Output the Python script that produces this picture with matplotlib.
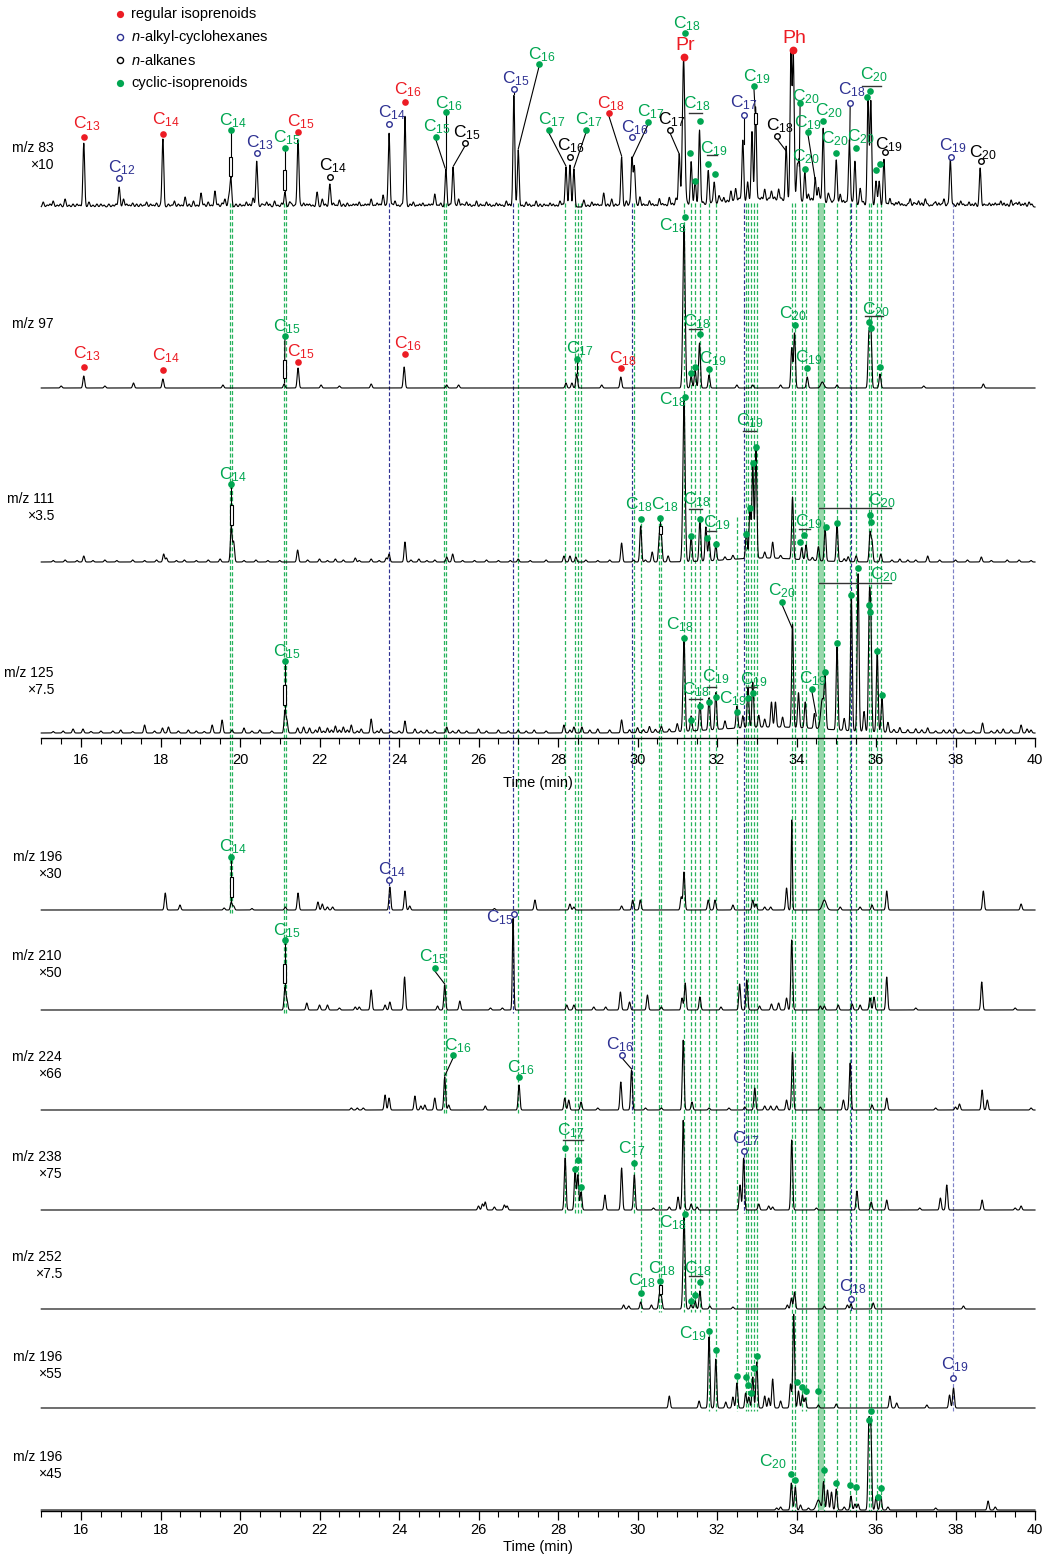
import numpy as np
import matplotlib
matplotlib.use('Agg')
import matplotlib.pyplot as plt
from matplotlib import font_manager
from matplotlib.patches import Rectangle

# ======================= DATA =======================
trace_ions = ['m/z 83', 'm/z 97', 'm/z 111', 'm/z 125', 'm/z 196', 'm/z 210',
              'm/z 224', 'm/z 238', 'm/z 252', 'm/z 196', 'm/z 196']
trace_gain = ['×10', '', '×3.5', '×7.5', '×30', '×50', '×66', '×75', '×7.5', '×55', '×45']

# peaks: (retention time [min], relative height, optional width [min])
peaks_83 = [(16.07, 64), (16.96, 20), (18.06, 68), (19.72, 10), (19.77, 29), (20.42, 45),
            (21.13, 15), (21.46, 67), (22.26, 23), (23.75, 74), (24.15, 91), (25.18, 38),
            (25.36, 40), (26.89, 112), (27.0, 57), (28.2, 40), (28.3, 42), (28.4, 38),
            (29.6, 50), (29.86, 49), (29.92, 40), (31.05, 52), (31.16, 147, 0.03),
            (31.35, 44), (31.45, 25), (31.56, 75), (31.78, 34), (31.93, 22), (32.65, 62),
            (32.88, 70), (32.97, 95), (33.74, 55), (33.86, 147), (33.92, 145), (34.02, 34),
            (34.07, 40), (34.21, 30), (34.47, 25), (34.67, 75), (35.0, 44), (35.33, 65),
            (35.47, 44), (35.8, 110), (35.87, 105), (36.0, 25), (36.08, 25), (36.2, 47),
            (37.87, 47), (38.62, 39), (33.5, 6, 1.3)]
noise_83 = [(15.05, 5), (15.3, 6), (15.6, 8), (15.8, 3), (16.2, 5), (16.4, 3), (16.7, 3), (17.07, 8),
            (17.3, 4), (17.5, 3), (17.65, 5), (17.9, 4), (18.2, 3), (18.35, 6), (18.62, 10), (18.83, 6),
            (19.02, 14), (19.2, 5), (19.37, 16), (19.55, 4), (19.62, 8), (20.0, 3), (20.16, 5), (20.33, 9),
            (20.55, 3), (20.67, 5), (20.87, 6), (21.05, 4), (21.25, 5), (21.6, 4), (21.75, 3), (21.94, 15),
            (22.07, 8), (22.35, 4), (22.5, 7), (22.7, 4), (22.85, 3), (23.0, 5), (23.15, 3), (23.3, 8),
            (23.45, 4), (23.6, 12), (23.9, 6), (24.36, 5), (24.6, 4), (24.75, 3), (24.9, 13), (25.05, 4),
            (25.5, 8), (25.7, 5), (25.95, 6), (26.2, 5), (26.45, 4), (26.7, 6), (27.2, 5), (27.45, 6),
            (27.65, 3), (27.8, 4), (28.05, 6), (28.65, 7), (28.85, 5), (29.0, 3), (29.15, 14), (29.35, 8),
            (29.72, 6), (30.06, 10), (30.3, 6), (30.55, 8), (30.8, 9), (30.97, 8), (32.05, 8), (32.17, 6),
            (32.35, 12), (32.47, 14), (32.77, 20), (33.2, 12), (33.37, 10), (33.55, 12), (34.3, 8),
            (34.55, 15), (34.8, 10), (35.1, 10), (35.6, 15), (36.35, 8), (36.57, 5), (36.86, 8), (37.07, 6),
            (37.24, 8), (37.5, 5), (37.71, 8), (38.13, 6), (38.34, 5), (38.85, 4), (39.14, 6), (39.4, 7),
            (39.6, 5), (39.85, 5)]
ripple_83 = [(15.15, 2), (15.22, 3), (15.4, 2), (15.48, 3), (15.7, 2), (15.9, 3), (15.97, 2), (16.3, 2),
             (16.5, 3), (16.58, 2), (16.8, 2), (16.88, 3), (17.15, 3), (17.22, 2), (17.4, 3), (17.58, 2),
             (17.75, 3), (17.82, 2), (18.0, 2), (18.28, 2), (18.45, 3), (18.53, 2), (18.72, 3), (18.92, 2),
             (19.1, 3), (19.28, 2), (19.45, 3), (19.9, 3), (20.08, 2), (20.24, 3), (20.45, 2), (20.6, 2),
             (20.75, 3), (20.95, 2), (21.3, 3), (21.38, 2), (21.52, 2), (21.68, 3), (21.83, 2), (22.15, 3),
             (22.42, 2), (22.6, 3), (22.78, 2), (22.92, 3), (23.08, 2), (23.22, 3), (23.38, 2), (23.52, 3),
             (23.68, 2), (23.83, 3), (23.98, 2), (24.07, 3), (24.28, 3), (24.45, 2), (24.52, 3), (24.68, 2),
             (24.82, 3), (24.98, 2), (25.28, 3), (25.42, 2), (25.58, 3), (25.63, 2), (25.78, 3), (25.87, 2),
             (26.05, 3), (26.12, 2), (26.28, 3), (26.37, 2), (26.53, 3), (26.6, 2), (26.78, 3), (27.1, 2),
             (27.28, 3), (27.37, 2), (27.55, 3), (27.72, 2), (27.88, 3), (27.96, 2), (28.12, 3), (28.75, 2),
             (28.93, 3), (29.07, 2), (29.25, 3), (29.45, 3), (29.52, 2), (29.8, 3), (29.97, 3), (30.15, 3),
             (30.22, 2), (30.38, 3), (30.46, 2), (30.63, 3), (30.7, 2), (30.88, 3), (31.25, 3), (31.65, 3),
             (31.87, 2), (32.1, 3), (32.26, 3), (32.42, 2), (32.55, 4), (32.6, 3), (33.05, 3), (33.12, 4),
             (33.3, 3), (33.45, 4), (33.62, 3), (34.38, 4), (34.6, 3), (34.85, 4), (34.93, 3), (35.18, 4),
             (35.25, 3), (35.4, 3), (35.62, 3), (35.68, 4), (36.28, 3), (36.42, 3), (36.5, 4), (36.65, 3),
             (36.72, 2), (36.8, 3), (36.95, 4), (37.0, 3), (37.15, 4), (37.3, 3), (37.38, 2), (37.45, 3),
             (37.58, 4), (37.65, 3), (37.8, 3), (37.95, 3), (38.05, 4), (38.2, 3), (38.27, 2), (38.42, 3),
             (38.5, 4), (38.72, 3), (38.78, 2), (38.93, 3), (39.0, 4), (39.07, 3), (39.22, 4), (39.3, 3),
             (39.48, 3), (39.53, 4), (39.68, 3), (39.75, 4), (39.92, 3)]
peaks_97 = [(15.5, 2), (16.07, 12), (16.6, 2), (17.32, 5), (18.06, 9), (19.57, 3), (21.11, 4),
            (21.46, 20), (22.04, 3), (22.5, 2), (23.3, 4), (24.13, 21), (25.2, 3), (25.5, 3),
            (28.2, 5), (28.35, 5), (28.47, 14), (29.1, 3), (29.58, 11), (31.17, 163, 0.028),
            (31.35, 12), (31.45, 18), (31.56, 45), (31.8, 13), (32.5, 3), (32.9, 3), (33.6, 3),
            (33.88, 40), (33.95, 55), (34.27, 11), (34.65, 6, 0.04), (35.02, 3), (35.82, 52),
            (35.87, 58), (36.1, 14), (37.2, 2), (38.7, 4)]
peaks_111 = [(15.6, 2), (16.07, 6), (16.6, 2), (17.3, 2), (18.08, 8), (18.15, 4), (18.6, 2),
             (19.5, 3), (19.78, 35), (19.84, 20), (20.4, 2), (21.45, 12), (22.0, 3), (22.4, 3),
             (22.9, 4), (23.3, 3), (23.68, 4), (23.75, 8), (24.15, 20), (24.5, 3), (25.2, 5),
             (25.35, 8), (26.2, 2), (27.0, 3), (28.15, 6), (28.3, 6), (28.45, 5), (29.6, 19),
             (30.08, 36), (30.37, 10), (30.55, 27), (30.6, 25), (30.77, 6), (31.17, 162, 0.028),
             (31.35, 25), (31.57, 41), (31.72, 34), (31.8, 20), (31.97, 15), (32.4, 4), (32.74, 27),
             (32.83, 52), (32.9, 95), (32.98, 110), (33.2, 6), (33.4, 16), (33.9, 62), (34.13, 12),
             (34.24, 15), (34.55, 14), (34.72, 32), (35.02, 36), (35.3, 5), (35.5, 6), (35.85, 29),
             (35.9, 20), (36.12, 8), (36.6, 3), (37.3, 6), (38.0, 2), (38.65, 5), (39.3, 2),
             (33.2, 4, 0.9)]
ripple_111 = [(15.3, 1.5), (15.9, 1.5), (16.3, 1.5), (16.9, 1.5), (17.6, 1.5), (17.9, 2), (18.4, 1.5),
              (18.9, 1.5), (19.2, 2), (20.1, 1.5), (20.7, 1.5), (21.0, 1.5), (21.7, 2), (22.2, 1.5),
              (22.6, 2), (23.0, 1.5), (23.5, 1.5), (24.3, 2), (24.7, 1.5), (24.9, 2), (25.6, 1.5),
              (25.9, 1.5), (26.5, 1.5), (26.8, 1.5), (27.3, 1.5), (27.7, 2), (28.7, 2), (29.0, 1.5),
              (29.3, 2), (29.9, 2), (30.2, 2), (32.2, 3), (33.6, 3), (34.4, 3), (35.2, 3), (36.4, 2),
              (36.8, 2), (37.0, 2), (37.6, 2), (38.3, 2), (38.9, 1.5), (39.6, 2), (39.9, 1.5)]
peaks_125 = [(15.8, 4), (16.05, 4), (16.5, 2), (17.0, 3), (17.6, 8), (18.05, 5), (18.2, 6), (18.7, 3),
             (19.3, 8), (19.55, 13), (19.8, 3), (20.1, 5), (20.5, 3), (21.13, 22), (21.18, 12),
             (21.45, 5), (21.6, 6), (21.75, 5), (22.0, 6), (22.2, 5), (22.4, 7), (22.6, 6), (22.8, 8),
             (23.05, 4), (23.3, 14), (23.55, 4), (24.15, 12), (24.4, 4), (24.7, 3), (25.2, 6),
             (25.5, 3), (26.0, 4), (26.5, 3), (27.0, 3), (27.4, 3), (28.15, 8), (28.4, 6), (28.6, 6),
             (29.0, 4), (29.6, 13), (30.0, 5), (30.3, 6), (30.6, 6), (31.0, 8), (31.17, 93, 0.025),
             (31.35, 15), (31.57, 28), (31.8, 32), (31.97, 37), (32.2, 8), (32.5, 22), (32.65, 12),
             (32.78, 40), (32.9, 45), (33.05, 12), (33.2, 8), (33.37, 25), (33.47, 25), (33.65, 10),
             (33.9, 103), (34.05, 35), (34.22, 26), (34.45, 15), (34.65, 30, 0.04), (34.72, 48),
             (35.02, 83), (35.2, 12), (35.38, 133), (35.55, 158), (35.7, 20), (35.83, 116),
             (35.87, 100), (36.03, 81), (36.15, 35), (36.3, 10), (36.6, 5), (37.0, 4), (37.3, 5),
             (37.7, 3), (38.0, 4), (38.68, 10), (39.2, 4), (39.65, 8), (39.8, 4), (33.4, 6, 1.4)]
ripple_125 = [(15.3, 1.5), (15.55, 2), (16.25, 1.5), (16.8, 2), (17.3, 1.5), (17.85, 2), (18.45, 2),
              (18.9, 2), (19.1, 1.5), (20.3, 2), (20.8, 2), (21.9, 3), (22.1, 2), (22.3, 3), (22.5, 3),
              (22.7, 3), (22.95, 2), (23.45, 2), (23.8, 2), (24.0, 2), (24.55, 2), (24.9, 2), (25.35, 2),
              (25.7, 2), (26.2, 2), (26.75, 2), (27.2, 2), (27.7, 2), (28.3, 3), (28.8, 3), (29.3, 3),
              (29.8, 3), (30.15, 3), (30.45, 3), (30.8, 3), (36.45, 3), (36.8, 3), (37.15, 3), (37.5, 2),
              (37.85, 3), (38.2, 3), (38.45, 2), (38.9, 2), (39.05, 3), (39.4, 3), (39.9, 3)]
peaks_196a = [(18.12, 17), (18.49, 5), (19.6, 2), (19.78, 8), (19.84, 4), (20.3, 1.5), (21.14, 3),
              (21.46, 17), (21.96, 8), (22.07, 6), (22.2, 3), (22.33, 3), (23.77, 23), (24.15, 19),
              (24.27, 4), (26.4, 1.5), (27.42, 10), (28.3, 6), (28.4, 3), (29.6, 4), (29.88, 10),
              (30.07, 10), (31.1, 13), (31.17, 38), (31.78, 10), (31.95, 10), (32.4, 5), (32.9, 10),
              (32.98, 6), (33.2, 3), (33.35, 3), (33.75, 22), (33.88, 90, 0.015), (34.7, 10, 0.05),
              (35.1, 3), (35.6, 3), (35.9, 5), (36.27, 19), (38.7, 19), (39.65, 6)]
peaks_210 = [(21.13, 22), (21.18, 10), (21.68, 7), (22.0, 5), (22.2, 5), (22.5, 2), (22.9, 3),
             (23.0, 3), (23.3, 20), (23.65, 5), (23.77, 8), (24.14, 33), (24.97, 4), (25.15, 25),
             (25.53, 9), (26.3, 2), (26.6, 2), (26.87, 92, 0.018), (28.22, 5), (28.4, 5), (28.9, 3),
             (29.2, 3), (29.57, 18), (29.8, 8), (30.25, 15), (30.6, 3), (31.12, 12), (31.2, 27),
             (31.57, 13), (32.1, 3), (32.57, 26), (32.75, 30), (33.07, 4), (33.37, 6), (33.55, 7),
             (33.75, 12), (33.88, 70), (34.6, 4), (34.7, 4), (35.05, 5), (35.4, 6), (35.6, 5),
             (35.85, 12), (35.95, 13), (36.27, 33), (37.0, 2), (38.66, 28), (39.5, 2)]
peaks_224 = [(22.8, 2), (22.95, 2), (23.1, 2), (23.65, 15), (23.75, 12), (24.4, 14), (24.55, 4),
             (24.65, 5), (24.9, 12), (25.15, 33), (25.25, 5), (26.17, 4), (27.02, 25), (28.17, 12),
             (28.27, 10), (28.58, 8), (29.0, 2), (29.58, 28), (29.85, 40), (30.2, 2), (30.6, 2),
             (31.15, 70), (31.37, 8), (31.8, 2), (32.3, 2), (32.7, 3), (32.95, 22), (33.2, 4),
             (33.35, 4), (33.5, 4), (33.75, 10), (33.9, 58), (34.6, 3), (35.18, 10), (35.35, 47),
             (35.9, 5), (36.27, 12), (37.5, 2), (38.0, 3), (38.1, 6), (38.67, 20), (38.8, 10),
             (39.9, 2)]
peaks_238 = [(26.0, 4), (26.1, 6), (26.17, 8), (26.4, 3), (26.65, 5), (26.72, 4), (28.18, 52),
             (28.43, 40), (28.5, 35), (28.58, 18), (29.18, 15), (29.6, 42), (29.92, 35), (30.4, 2),
             (30.8, 3), (31.02, 13), (31.15, 90), (31.35, 6), (31.5, 3), (32.58, 25), (32.67, 52),
             (33.05, 6), (33.3, 4), (33.4, 3), (33.88, 70), (34.5, 2), (35.52, 19), (35.88, 8),
             (36.27, 10), (37.1, 2), (37.62, 12), (37.78, 25), (38.67, 10), (39.5, 2), (39.65, 4)]
peaks_252 = [(29.65, 4), (29.78, 3), (30.08, 7), (30.35, 4), (30.55, 14), (30.6, 12),
             (31.17, 92, 0.025), (31.35, 5), (31.45, 8), (31.57, 18), (31.82, 3), (32.4, 2),
             (33.77, 4), (33.87, 11), (33.95, 17), (34.7, 3), (35.28, 4), (35.37, 5), (35.93, 6),
             (38.2, 3)]
peaks_196b = [(30.8, 12), (31.55, 7), (31.8, 71), (31.97, 49), (32.22, 6), (32.4, 11), (32.5, 25),
              (32.72, 15), (32.8, 11), (32.9, 31), (33.0, 46), (33.2, 12), (33.3, 10), (33.4, 29),
              (33.6, 7), (33.85, 24), (33.93, 94), (34.05, 17), (34.15, 13), (34.22, 10), (34.55, 3),
              (35.0, 4), (36.35, 12), (36.52, 5), (37.28, 3), (37.85, 13), (37.95, 20)]
peaks_196c = [(33.5, 2), (33.6, 3), (33.87, 27), (33.97, 23), (34.1, 5), (34.3, 2), (34.55, 10, 0.05),
              (34.68, 28), (34.78, 20), (34.88, 18), (35.0, 21), (35.2, 3), (35.37, 14), (35.47, 6),
              (35.55, 6), (35.82, 86), (35.87, 79), (36.0, 13), (36.12, 14), (36.3, 3), (37.5, 2),
              (38.82, 9), (39.0, 3)]
trace_peaks = [peaks_83 + noise_83 + ripple_83, peaks_97, peaks_111 + ripple_111,
               peaks_125 + ripple_125, peaks_196a, peaks_210, peaks_224, peaks_238, peaks_252,
               peaks_196b, peaks_196c]

# retention times of compound guide lines (cyclic isoprenoids / n-alkyl-cyclohexanes)
cyc_rt = [19.75, 19.81, 21.11, 21.16, 25.13, 25.18, 27.0, 28.18, 28.43, 28.5, 28.58, 29.92,
          30.08, 30.55, 30.6, 31.17, 31.35, 31.45, 31.57, 31.8, 31.97, 32.5, 32.72, 32.78,
          32.85, 32.92, 33.0, 33.88, 33.97, 34.15, 34.25, 34.55, 34.7, 35.02, 35.35, 35.5,
          35.82, 35.87, 36.03, 36.13]
cyc_last_trace = [4, 4, 5, 5, 6, 6, 6, 7, 7, 7, 7, 7, 8, 8, 8, 8, 8, 8, 8, 9, 9, 9, 9, 9,
                  9, 9, 9, 10, 10, 9, 9, 10, 10, 10, 10, 10, 10, 10, 10, 10]
cyc_first_trace = [0] * 40
cyc_first_trace[12] = cyc_first_trace[13] = cyc_first_trace[14] = cyc_first_trace[21] = 2
alk_rt = [23.76, 26.88, 29.86, 32.67, 35.37, 37.93]
alk_last_trace = [4, 5, 6, 7, 8, 9]
band_rt = (34.55, 34.68)

# ======================= LAYOUT / STYLE =======================
W, H, DPI = 1045, 1558, 100
X0, X1 = 41.25, 1035.0
PPM = (X1 - X0) / 25.0
def px2t(x):
    return 15 + (x - X0) / PPM
def dt(px):
    return px / PPM

baseline = [207, 388, 562, 733, 910, 1010, 1110, 1210, 1309, 1408, 1510]
label_y = [148, 324, 499, 673, 857, 956, 1057, 1157, 1257, 1357, 1457]
label_right = [54] * 4 + [62] * 7
axis_y = [738, 1511]

RED = '#ec1c24'
GREEN = '#00a651'
GREEN_L = '#25b35c'
BLUE = '#2e3192'
BLUE_L = '#7c80c6'
BAND = '#86d09c'

fam = 'Liberation Sans'
names = {f.name for f in font_manager.fontManager.ttflist}
narrow = 'Liberation Sans Narrow' if 'Liberation Sans Narrow' in names else fam
plt.rcParams['font.family'] = [fam, 'DejaVu Sans']
plt.rcParams['mathtext.fontset'] = 'custom'
plt.rcParams['mathtext.rm'] = fam
plt.rcParams['mathtext.it'] = fam + ':italic'
plt.rcParams['mathtext.default'] = 'regular'

fig = plt.figure(figsize=(W / DPI, H / DPI), dpi=DPI)
ax = fig.add_axes([0, 0, 1, 1])
ax.set_xlim(px2t(0), px2t(W))
ax.set_ylim(H, 0)
ax.axis('off')

# ---- traces ----
tgrid = np.arange(15.0, 40.0 + 1e-9, 0.004)
def signal(peaks):
    s = np.zeros_like(tgrid)
    for p in peaks:
        w = p[2] if len(p) > 2 else 0.022
        s += p[1] * np.exp(-0.5 * ((tgrid - p[0]) / w) ** 2)
    return s

for i, pk in enumerate(trace_peaks):
    ax.plot(tgrid, baseline[i] - signal(pk), color='black', lw=0.8, zorder=3)
    ax.text(px2t(label_right[i]), label_y[i], trace_ions[i], ha='right', va='center',
            fontsize=10)
    if trace_gain[i]:
        ax.text(px2t(label_right[i]), label_y[i] + 17, trace_gain[i], ha='right',
                va='center', fontsize=10)

# ---- vertical guide lines ----
def vline(t, y0, y1, color, lw=0.9):
    ax.plot([t, t], [y0, y1], color=color, lw=lw, dashes=(3.2, 1.8), zorder=1)

for t, a, b in zip(cyc_rt, cyc_first_trace, cyc_last_trace):
    y0 = baseline[a] - (4 if a == 0 else 45)
    y1 = baseline[b] + (3 if b < 10 else 1)
    vline(t, y0, y1, GREEN_L)
for t, b in zip(alk_rt, alk_last_trace):
    vline(t, baseline[0] - 4, baseline[b] + 3, BLUE_L if t > 37 else BLUE, lw=0.85)
ax.fill_betweenx([baseline[0] - 4, baseline[10]], band_rt[0], band_rt[1], color=BAND,
                 alpha=0.85, lw=0, zorder=0.5)

# ---- annotations ----
COL = {'reg': RED, 'cyc': GREEN, 'alk': BLUE, 'nalk': 'black'}

def mark(t, y, kind, ms=4.8):
    c = COL[kind]
    if kind in ('reg', 'cyc'):
        ax.plot([t], [y], 'o', ms=ms, color=c, mec=c, mew=0, zorder=6)
    else:
        ax.plot([t], [y], 'o', ms=ms - 0.8, mfc='white', mec=c, mew=1.0, zorder=6)

def clabel(t, yc, lab, kind, size=12.5):
    c = COL[kind]
    if lab in ('Pr', 'Ph'):
        ax.text(t, yc + 6, lab, ha='center', va='baseline', fontsize=14, color=c, zorder=7)
    else:
        ax.text(t, yc + 6, 'C$_{%s}$' % lab, ha='center', va='baseline', fontsize=size,
                color=c, zorder=7)

def A(tr, kind, t, h, lab='', dx=3, dy=13, to=None, box=None):
    y = baseline[tr] - h
    if to is not None:
        ax.plot([t, to[0]], [y + 3, baseline[tr] - to[1] - 1], color='black', lw=0.8, zorder=4)
    if box is not None:
        ax.add_patch(Rectangle((to[0] - dt(1.5), baseline[tr] - box[1]), dt(3.0),
                               box[1] - box[0], fc='white', ec='black', lw=0.8, zorder=5))
    mark(t, y, kind, ms=5.6 if lab in ('Pr', 'Ph') else 4.8)
    if lab:
        clabel(t + dt(dx), y - dy, lab, kind)

def G(tr, t, h, lab, kind='cyc'):
    clabel(t, baseline[tr] - h, lab, kind)

def BR(tr, t0, t1, h):
    ax.plot([t0, t1], [baseline[tr] - h] * 2, color='#333333', lw=1.0, zorder=4)

# m/z 83
A(0, 'reg', 16.07, 70, '13', 3, 15)
A(0, 'alk', 16.96, 29, '12', 3, 12)
A(0, 'reg', 18.06, 73, '14', 3, 16)
A(0, 'cyc', 19.77, 77, '14', 2, 11, to=(19.77, 29), box=(31, 50))
A(0, 'alk', 20.43, 54, '13', 3, 12)
A(0, 'cyc', 21.13, 59, '15', 2, 12, to=(21.13, 15), box=(17, 37))
A(0, 'reg', 21.46, 75, '15', 3, 12)
A(0, 'nalk', 22.26, 30, '14', 3, 13)
A(0, 'alk', 23.75, 83, '14', 3, 13)
A(0, 'reg', 24.15, 105, '16', 3, 14)
A(0, 'cyc', 24.93, 70, '15', 1, 12, to=(25.16, 38))
A(0, 'cyc', 25.18, 95, '16', 3, 10, to=(25.18, 38))
A(0, 'nalk', 25.66, 64, '15', 2, 12, to=(25.37, 40))
A(0, 'alk', 26.89, 118, '15', 2, 12, to=(26.89, 112))
A(0, 'cyc', 27.52, 143, '16', 3, 11, to=(27.0, 57))
A(0, 'cyc', 27.77, 77, '17', 3, 12, to=(28.2, 40))
A(0, 'nalk', 28.30, 50, '16', 1, 13)
A(0, 'cyc', 28.70, 77, '17', 3, 12, to=(28.4, 38))
A(0, 'reg', 29.28, 94, '18', 2, 11, to=(29.6, 50))
A(0, 'alk', 29.86, 70, '16', 3, 11)
A(0, 'cyc', 30.26, 85, '17', 3, 12, to=(29.88, 49))
A(0, 'nalk', 30.82, 77, '17', 2, 12, to=(31.05, 52))
A(0, 'reg', 31.17, 150, 'Pr', 1, 13)
A(0, 'cyc', 31.2, 174, '18', 2, 11)
A(0, 'cyc', 31.33, 54)
A(0, 'cyc', 31.45, 26)
A(0, 'cyc', 31.57, 86)
BR(0, 31.30, 31.62, 94); G(0, 31.5, 105, '18')
A(0, 'cyc', 31.77, 43)
A(0, 'cyc', 31.95, 33)
BR(0, 31.75, 32.0, 52); G(0, 31.93, 60, '19')
A(0, 'alk', 32.68, 92, '17', 0, 14, to=(32.68, 62))
A(0, 'cyc', 32.93, 121, '19', 3, 11, to=(32.96, 95), box=(83, 94))
A(0, 'nalk', 33.51, 71, '18', 3, 12, to=(33.74, 55))
A(0, 'reg', 33.91, 157, 'Ph', 1, 13)
A(0, 'cyc', 34.09, 104, '20', 6, 8, to=(34.07, 40))
A(0, 'cyc', 34.21, 38, '20', 1, 14)
A(0, 'cyc', 34.29, 75, '19', 0, 11, to=(34.47, 26))
A(0, 'cyc', 34.67, 86, '20', 6, 12)
A(0, 'cyc', 34.99, 54, '20', -1, 16)
A(0, 'alk', 35.35, 104, '18', 2, 15, to=(35.34, 65))
A(0, 'cyc', 35.50, 59, '20', 5, 13)
A(0, 'cyc', 35.77, 110)
A(0, 'cyc', 35.85, 116)
BR(0, 35.64, 36.12, 121); G(0, 35.95, 134, '20')
A(0, 'cyc', 36.0, 37)
A(0, 'cyc', 36.1, 43)
A(0, 'nalk', 36.23, 55, '19', 4, 9)
A(0, 'alk', 37.89, 50, '19', 2, 13)
A(0, 'nalk', 38.64, 46, '20', 2, 10)

# m/z 97
A(1, 'reg', 16.07, 21, '13', 3, 15)
A(1, 'reg', 18.06, 18, '14', 3, 16)
A(1, 'cyc', 21.13, 52, '15', 2, 11, to=(21.12, 4), box=(10, 28))
A(1, 'reg', 21.46, 26, '15', 3, 12)
A(1, 'reg', 24.15, 34, '16', 3, 12)
A(1, 'cyc', 28.47, 29, '17', 3, 12, to=(28.47, 14))
A(1, 'reg', 29.58, 20, '18', 2, 11)
A(1, 'cyc', 31.2, 171, '18', -12, -7)
A(1, 'cyc', 31.35, 15)
A(1, 'cyc', 31.45, 21)
A(1, 'cyc', 31.57, 54)
BR(1, 31.30, 31.62, 59); G(1, 31.5, 68, '18')
A(1, 'cyc', 31.8, 19, '19', 4, 12)
A(1, 'cyc', 33.95, 63, '20', -2, 13)
A(1, 'cyc', 34.27, 20, '19', 2, 12)
A(1, 'cyc', 35.82, 66)
A(1, 'cyc', 35.87, 60)
BR(1, 35.72, 36.17, 72); G(1, 36.0, 80, '20')
A(1, 'cyc', 36.1, 21)

# m/z 111
A(2, 'cyc', 19.78, 78, '14', 2, 11, to=(19.78, 35), box=(37, 57))
A(2, 'cyc', 30.08, 43, '18', -2, 16)
A(2, 'cyc', 30.57, 44, '18', 5, 15, to=(30.57, 27), box=(28, 36))
A(2, 'cyc', 31.19, 165, '18', -12, -1)
A(2, 'cyc', 31.35, 26)
A(2, 'cyc', 31.57, 43)
BR(2, 31.30, 31.62, 53); G(2, 31.5, 64, '18')
A(2, 'cyc', 31.75, 24)
A(2, 'cyc', 31.97, 18)
BR(2, 31.72, 31.98, 31); G(2, 31.99, 41, '19')
A(2, 'cyc', 32.72, 28)
A(2, 'cyc', 32.82, 54)
A(2, 'cyc', 32.9, 99)
A(2, 'cyc', 32.98, 115)
BR(2, 32.65, 32.98, 131); G(2, 32.82, 143, '19')
A(2, 'cyc', 34.1, 20)
A(2, 'cyc', 34.2, 27)
BR(2, 34.07, 34.33, 33); G(2, 34.3, 42, '19')
A(2, 'cyc', 34.73, 35)
A(2, 'cyc', 35.02, 39)
A(2, 'cyc', 35.85, 47)
A(2, 'cyc', 35.88, 40)
BR(2, 34.57, 36.38, 54); G(2, 36.15, 63, '20')

# m/z 125
A(3, 'cyc', 21.13, 72, '15', 2, 11, to=(21.13, 22), box=(28, 48))
A(3, 'cyc', 31.17, 95, '18', -4, 15)
A(3, 'cyc', 31.35, 13)
A(3, 'cyc', 31.57, 27)
BR(3, 31.30, 31.62, 34); G(3, 31.48, 45, '18')
A(3, 'cyc', 31.8, 31)
A(3, 'cyc', 31.97, 36)
BR(3, 31.75, 31.97, 46); G(3, 31.97, 58, '19')
A(3, 'cyc', 32.5, 21, '19', -4, 15)
A(3, 'cyc', 32.78, 35)
A(3, 'cyc', 32.9, 40)
BR(3, 32.72, 32.97, 46); G(3, 32.93, 55, '19')
A(3, 'cyc', 33.64, 131, '20', 0, 13, to=(33.9, 103))
A(3, 'cyc', 34.39, 44, '19', 1, 12, to=(34.5, 16))
A(3, 'cyc', 34.72, 61)
A(3, 'cyc', 35.02, 90)
A(3, 'cyc', 35.38, 138)
A(3, 'cyc', 35.55, 165)
A(3, 'cyc', 35.82, 128)
A(3, 'cyc', 35.86, 121)
A(3, 'cyc', 36.03, 82)
A(3, 'cyc', 36.15, 38)
BR(3, 34.57, 36.38, 150); G(3, 36.2, 160, '20')

# m/z 196 x30
A(4, 'cyc', 19.78, 53, '14', 2, 12, to=(19.78, 8), box=(13, 33))
A(4, 'alk', 23.76, 30, '14', 2, 12)
# m/z 210
A(5, 'cyc', 21.13, 70, '15', 2, 11, to=(21.13, 22), box=(27, 46))
A(5, 'cyc', 24.90, 42, '15', -2, 13, to=(25.15, 25))
A(5, 'alk', 26.89, 96, '15', -14, -2)
# m/z 224
A(6, 'cyc', 25.36, 55, '16', 5, 11, to=(25.15, 33))
A(6, 'cyc', 27.02, 33, '16', 2, 11)
A(6, 'alk', 29.61, 55, '16', -2, 12, to=(29.85, 40))
# m/z 238
A(7, 'cyc', 28.18, 62)
A(7, 'cyc', 28.43, 41)
A(7, 'cyc', 28.5, 50)
A(7, 'cyc', 28.58, 23)
BR(7, 28.12, 28.62, 70); G(7, 28.33, 81, '17')
A(7, 'cyc', 29.92, 47, '17', -3, 16)
A(7, 'alk', 32.67, 59, '17', 2, 14)
# m/z 252
A(8, 'cyc', 30.08, 16, '18', 1, 14)
A(8, 'cyc', 30.57, 28, '18', 2, 14, to=(30.57, 14), box=(15, 24))
A(8, 'cyc', 31.19, 95, '18', -12, -7)
A(8, 'cyc', 31.35, 8)
A(8, 'cyc', 31.45, 14)
A(8, 'cyc', 31.57, 27)
BR(8, 31.30, 31.62, 33); G(8, 31.52, 42, '18')
A(8, 'alk', 35.37, 10, '18', 2, 14)
# m/z 196 x55
A(9, 'cyc', 31.8, 77, '19', -16, -1)
for t, h in [(31.97, 58), (32.5, 32), (32.72, 31), (32.78, 23), (32.85, 15), (32.92, 40),
             (33.0, 52), (34.02, 26), (34.15, 21), (34.25, 17), (34.55, 17)]:
    A(9, 'cyc', t, h)
A(9, 'alk', 37.93, 30, '19', 2, 15)
# m/z 196 x45
A(10, 'cyc', 33.87, 36, '20', -18, 14)
for t, h in [(33.97, 30), (34.7, 40), (35.0, 27), (35.35, 25), (35.5, 23), (35.82, 90),
             (35.87, 99), (36.05, 13), (36.13, 22)]:
    A(10, 'cyc', t, h)

# ---- legend ----
leg = [('reg', 'regular isoprenoids'), ('alk', '$\\it{n}$-alkyl-cyclohexanes'),
       ('nalk', '$\\it{n}$-alkanes'), ('cyc', 'cyclic-isoprenoids')]
for k, (kind, txt) in enumerate(leg):
    y = 14 + 23 * k
    mark(px2t(120), y, kind, ms=5.2)
    ax.text(px2t(131), y, txt, ha='left', va='center', fontsize=10.5)

# ---- time axes ----
def time_axis(ypx, pad, labelpad):
    a = fig.add_axes([X0 / W, 1 - ypx / H, (X1 - X0) / W, 1e-4])
    a.set_xlim(15, 40)
    a.set_ylim(0, 1)
    for s in ('top', 'left', 'right'):
        a.spines[s].set_visible(False)
    a.spines['bottom'].set_linewidth(1.0)
    a.patch.set_visible(False)
    a.set_yticks([])
    a.set_xticks(np.arange(16, 41, 2))
    a.set_xticks(np.arange(15, 40.01, 0.5), minor=True)
    a.tick_params(axis='x', which='major', length=6.5, width=0.9, labelsize=10.5, pad=pad)
    a.tick_params(axis='x', which='minor', length=4.5, width=0.8)
    for lb in a.get_xticklabels():
        lb.set_fontfamily(narrow)
    a.set_xlabel('Time (min)', fontsize=10.5, labelpad=labelpad, fontfamily=narrow)

time_axis(axis_y[0], 4, 7)
time_axis(axis_y[1], 2.5, 1.5)

fig.savefig('out.png', dpi=DPI)
